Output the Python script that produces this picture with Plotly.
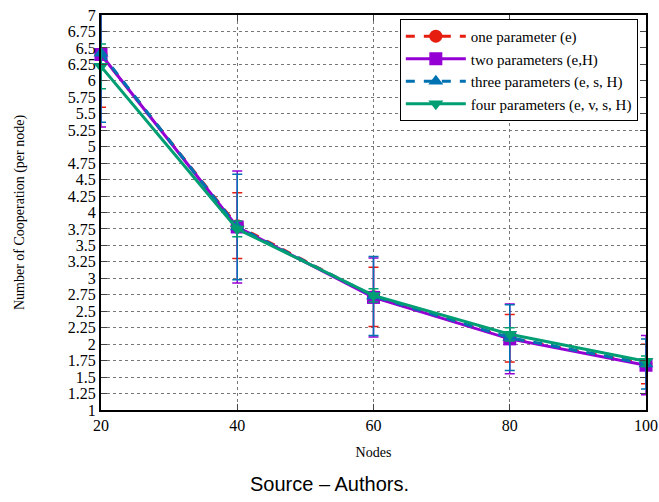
import plotly.graph_objects as go

nodes = [20, 40, 60, 80, 100]

names = ["one parameter (e)", "two parameters (e,H)",
         "three parameters (e, s, H)", "four parameters (e, v, s, H)"]

one_vals = [6.40, 3.80, 2.72, 2.09, 1.70]
one_err = [0.80, 0.50, 0.45, 0.36, 0.30]

two_vals = [6.40, 3.78, 2.71, 2.08, 1.68]
two_err = [1.10, 0.85, 0.60, 0.53, 0.45]

three_vals = [6.42, 3.78, 2.73, 2.10, 1.70]
three_err = [1.05, 0.80, 0.60, 0.50, 0.38]

four_vals = [6.22, 3.75, 2.74, 2.15, 1.74]
four_err = [0.34, 0.12, 0.10, 0.10, 0.08]

colors = ["#e51e10", "#9400d3", "#0072b2", "#009e73"]
symbols = ["circle", "square", "triangle-up", "triangle-down"]
dashes = ["dash", "solid", "dash", "solid"]
vals = [one_vals, two_vals, three_vals, four_vals]
errs = [one_err, two_err, three_err, four_err]

y_ticks = [1 + 0.25 * i for i in range(25)]
y_labels = [("%g" % v) for v in y_ticks]

fig = go.Figure()
for n, v, e, c, s, d in zip(names, vals, errs, colors, symbols, dashes):
    fig.add_trace(go.Scatter(
        x=nodes, y=v, name=n, mode="lines+markers",
        line=dict(color=c, width=3, dash=d),
        marker=dict(color=c, symbol=s, size=13),
        error_y=dict(type="data", array=e, visible=True, color=c,
                     thickness=1.5, width=5),
        cliponaxis=False,
    ))

serif = "Liberation Serif, Times New Roman, serif"
fig.update_layout(
    width=659, height=502,
    margin=dict(l=101, r=13, t=15, b=92, autoexpand=False),
    plot_bgcolor="white", paper_bgcolor="white",
    font=dict(family=serif, size=16, color="black"),
    showlegend=True,
    legend=dict(x=0.985, y=0.99, xanchor="right", yanchor="top",
                bgcolor="white", bordercolor="black", borderwidth=1,
                font=dict(family=serif, size=15), tracegroupgap=0,
                itemwidth=60),
    xaxis=dict(range=[20, 100], tickvals=nodes, ticks="inside", ticklen=6,
               automargin=False,
               showline=True, linecolor="black", linewidth=2, mirror="allticks",
               showgrid=True, gridcolor="#777", griddash="dot", gridwidth=1,
               zeroline=False, tickfont=dict(size=16),
               title=dict(text="Nodes", font=dict(size=14), standoff=14)),
    yaxis=dict(range=[1, 7], tickvals=y_ticks, ticktext=y_labels,
               ticks="inside", ticklen=6, automargin=False,
               showline=True, linecolor="black", linewidth=2, mirror="allticks",
               showgrid=True, gridcolor="#777", griddash="dot", gridwidth=1,
               zeroline=False, tickfont=dict(size=16),
               title=dict(text="Number of Cooperation (per node)",
                          font=dict(size=14), standoff=40)),
    annotations=[dict(text="Source – Authors.", xref="paper", yref="paper",
                      x=0.42, y=-0.155, xanchor="center", yanchor="top",
                      showarrow=False,
                      font=dict(family="Liberation Sans, Arial, sans-serif",
                                size=20))],
)
fig.write_html("out.html")
